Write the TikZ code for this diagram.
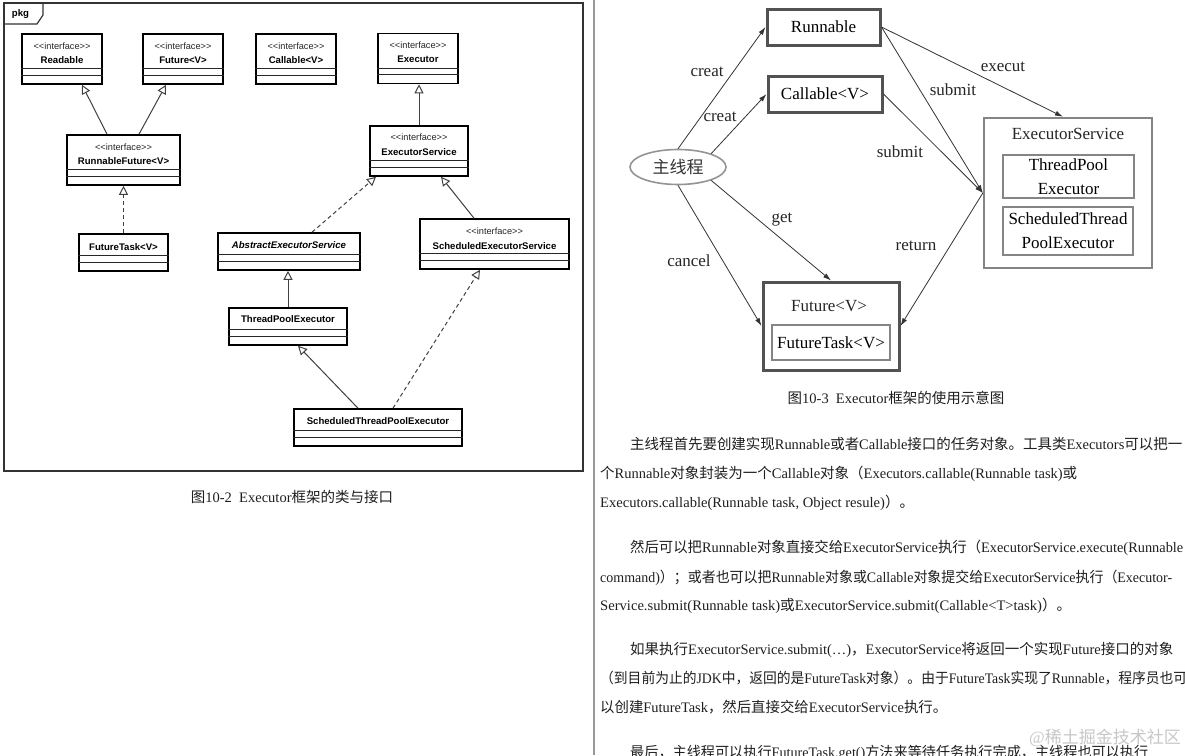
\documentclass[tikz,border=0pt]{standalone}
\usepackage{fontspec}
\setmainfont{Liberation Serif}
\setsansfont{Liberation Sans}
\newfontfamily\cjkfont{Noto Sans CJK SC}
\usepackage{graphicx}
\usetikzlibrary{arrows.meta,shapes.geometric,positioning}

% switch to the CJK font for Chinese characters
\XeTeXinterchartokenstate=1
\newXeTeXintercharclass\cjkclass
\newcount\cjkcnt
\cjkcnt="3000 \loop\XeTeXcharclass\cjkcnt=\cjkclass\advance\cjkcnt by 1 \ifnum\cjkcnt<"3040 \repeat
\cjkcnt="4E00 \loop\XeTeXcharclass\cjkcnt=\cjkclass\advance\cjkcnt by 1 \ifnum\cjkcnt<"A000 \repeat
\cjkcnt="FF00 \loop\XeTeXcharclass\cjkcnt=\cjkclass\advance\cjkcnt by 1 \ifnum\cjkcnt<"FFF0 \repeat
\XeTeXinterchartoks 0 \cjkclass = {\cjkfont}
\XeTeXinterchartoks 4095 \cjkclass = {\cjkfont}
\XeTeXinterchartoks \cjkclass 0 = {\rmfamily}
\XeTeXinterchartoks \cjkclass 4095 = {\rmfamily}

\tikzset{
  umlbox/.style={draw=black, line width=1.6pt, fill=white, inner sep=0pt},
  umlrow/.style={draw=black!85, line width=1.1pt},
  stereo/.style={inner sep=0pt, text=black!85, font=\sffamily\fontsize{9.2}{10}\selectfont},
  cname/.style={inner sep=0pt, font=\sffamily\bfseries\fontsize{9.6}{10}\selectfont},
  gen/.style={draw=black!75, line width=1pt, -{Triangle[open, length=9pt, width=9pt]}},
  realize/.style={gen, dash pattern=on 4pt off 3pt},
  tbox/.style={draw=black!68, line width=3pt, inner sep=0pt, font=\fontsize{17}{20}\selectfont},
  gbox/.style={draw=black!48, line width=2.4pt, inner sep=0pt, align=center, font=\fontsize{17}{24}\selectfont},
  flow/.style={draw=black!80, line width=0.8pt, -{Latex[length=8pt, width=5pt]}},
  lbl/.style={inner sep=0pt, text=black!85, font=\fontsize{17}{20}\selectfont},
  ptext/.style={anchor=base west, inner sep=0pt, text=black!88, font=\rmfamily\fontsize{14.5}{16}\selectfont},
}
\newcommand{\umlrows}[1]{%
  \draw[umlrow] ([yshift=16pt]#1.south west) -- ([yshift=16pt]#1.south east);
  \draw[umlrow] ([yshift=9.5pt]#1.south west) -- ([yshift=9.5pt]#1.south east);}
\newcommand{\intf}{<{}<interface>{}>}

\begin{document}
\begin{tikzpicture}[x=1pt,y=-1pt]
\useasboundingbox (0,0) rectangle (1185,755);
\fill[white] (0,0) rectangle (1185,755);

%Frame of the package
\draw[black!80, line width=1.4pt] (4,3) rectangle (583,471);
\draw[black!80, line width=1.2pt] (4,24) -- (37,24) -- (43,15) -- (43,3);
\node[cname] (pkg) at (20.5,14.5) {pkg};

%Separator
\draw[black!40, line width=1.3pt] (594,0) -- (594,755);

%Classes and interfaces
\node[umlbox, minimum width=80, minimum height=50] (readable) at (62,59) {};
\node[umlbox, minimum width=80, minimum height=50] (futurei) at (183,59) {};
\node[umlbox, minimum width=80, minimum height=50] (callablei) at (296,59) {};
\node[umlbox, minimum width=80, minimum height=50] (executor) at (418,58.5) {};
\node[umlbox, minimum width=113, minimum height=50] (rfuture) at (123.5,160) {};
\node[umlbox, minimum width=98, minimum height=50] (esi) at (419,151) {};
\node[umlbox, minimum width=89, minimum height=37] (ftask) at (123.5,252.5) {};
\node[umlbox, minimum width=142, minimum height=37] (aes) at (289,251.5) {};
\node[umlbox, minimum width=149, minimum height=50] (ses) at (494.5,244) {};
\node[umlbox, minimum width=118, minimum height=37] (tpe) at (288,326.5) {};
\node[umlbox, minimum width=168, minimum height=37] (stpe) at (378,427.5) {};
\foreach \c in {readable,futurei,callablei,executor,rfuture,esi,ftask,aes,ses,tpe,stpe}
  \umlrows{\c};

% Text Node
\node[stereo] (readables) at (62,46) {\intf};
\node[cname] (readablen) at (62,60) {Readable};
\node[stereo] (futureis) at (183,46) {\intf};
\node[cname] (futurein) at (183,60) {Future<V>};
\node[stereo] (callableis) at (296,46) {\intf};
\node[cname] (callablein) at (296,60) {Callable<V>};
\node[stereo] (executors) at (418,45) {\intf};
\node[cname] (executorn) at (418,59) {Executor};
\node[stereo] (rfutures) at (123.5,147) {\intf};
\node[cname] (rfuturen) at (123.5,161) {RunnableFuture<V>};
\node[stereo] (esis) at (419,137.5) {\intf};
\node[cname] (esin) at (419,152) {ExecutorService};
\node[stereo] (sess) at (494.5,231) {\intf};
\node[cname] (sesn) at (494.5,246) {ScheduledExecutorService};
\node[cname] (ftaskn) at (123.5,247.5) {FutureTask<V>};
\node[cname, font=\sffamily\bfseries\itshape\fontsize{9.6}{10}\selectfont] (aesn) at (289,245.5) {AbstractExecutorService};
\node[cname] (tpen) at (288,319.5) {ThreadPoolExecutor};
\node[cname] (stpen) at (378,421.5) {ScheduledThreadPoolExecutor};

%Generalisations
\draw[gen] ([xshift=-16.5pt]rfuture.north) -- ([xshift=20pt]readable.south);
\draw[gen] ([xshift=15.5pt]rfuture.north) -- ([xshift=-17pt]futurei.south);
\draw[realize] (ftask.north) -- (rfuture.south);
\draw[gen] (esi.north) -- (esi.north |- executor.south);
\draw[realize] ([xshift=23pt]aes.north) -- ([xshift=-43pt]esi.south);
\draw[gen] ([xshift=-20.5pt]ses.north) -- ([xshift=22pt]esi.south);
\draw[gen] (tpe.north) -- (tpe.north |- aes.south);
\draw[gen] ([xshift=-20pt]stpe.north) -- ([xshift=10pt]tpe.south);
\draw[realize] ([xshift=15pt]stpe.north) -- ([xshift=-14.5pt]ses.south);

% Text Node
\node[ptext, anchor=center] (cap2) at (292,497) {图10-2\hspace{0.5em}Executor框架的类与接口};

%Use of the framework
\node[tbox, minimum width=113, minimum height=36] (runnable) at (823.5,27) {Runnable};
\node[tbox, minimum width=114, minimum height=36] (callable) at (825,94) {Callable<V>};
\node[ellipse, draw=black!42, line width=1.6pt, minimum width=96, minimum height=35, inner sep=0pt, text=black!80, font=\fontsize{17}{20}\selectfont] (mainth) at (678,167) {主线程};
\node[gbox, minimum width=168, minimum height=150] (exec) at (1068,193) {};
\node[gbox, minimum width=131, minimum height=43] (tpool) at (1068.5,176.5) {ThreadPool\\Executor};
\node[gbox, minimum width=130, minimum height=48] (sched) at (1068,231) {ScheduledThread\\PoolExecutor};
\node[tbox, minimum width=136, minimum height=88] (future) at (831,326) {};
\node[gbox, minimum width=118, minimum height=35] (ftask2) at (831,342.5) {FutureTask<V>};
\node[lbl] (execn) at (1068,134) {ExecutorService};
\node[lbl] (futuren) at (829,306) {Future<V>};

%Arrows
\draw[flow] (mainth.north) -- (runnable.west);
\draw[flow] (mainth.22) -- (callable.west);
\draw[flow] (mainth.-22) -- (future.north);
\draw[flow] (mainth.south) -- (future.west);
\draw[flow] (runnable.east) -- ([xshift=-5pt]exec.north);
\draw[flow] (runnable.east) -- (exec.west);
\draw[flow] (callable.east) -- (exec.west);
\draw[flow] (exec.west) -- (future.east);

% Text Node
\node[lbl] (creat1) at (707,72) {creat};
\node[lbl] (creat2) at (720,117) {creat};
\node[lbl] (execut) at (1003,67) {execut};
\node[lbl] (submit1) at (953,90) {submit};
\node[lbl] (submit2) at (900,152) {submit};
\node[lbl] (getl) at (782,220) {get};
\node[lbl] (returnl) at (916,246) {return};
\node[lbl] (cancell) at (689,261) {cancel};
\node[ptext, anchor=center] (cap3) at (896,398) {图10-3\hspace{0.5em}Executor框架的使用示意图};

%Paragraphs
\node[ptext] (p1a) at (630,449) {\resizebox{552pt}{\height}{主线程首先要创建实现Runnable或者Callable接口的任务对象。工具类Executors可以把一}};
\node[ptext] (p1b) at (600,478) {\resizebox{477pt}{\height}{个Runnable对象封装为一个Callable对象（Executors.callable(Runnable task)或}};
\node[ptext] (p1c) at (600,507) {\resizebox{314pt}{\height}{Executors.callable(Runnable task, Object resule)）。}};
\node[ptext] (p2a) at (630,552) {\resizebox{553pt}{\height}{然后可以把Runnable对象直接交给ExecutorService执行（ExecutorService.execute(Runnable}};
\node[ptext] (p2b) at (600,582) {\resizebox{572pt}{\height}{command)）；或者也可以把Runnable对象或Callable对象提交给ExecutorService执行（Executor-}};
\node[ptext] (p2c) at (600,610) {\resizebox{471pt}{\height}{Service.submit(Runnable task)或ExecutorService.submit(Callable<T>task)）。}};
\node[ptext] (p3a) at (630,654) {\resizebox{543pt}{\height}{如果执行ExecutorService.submit(…)，ExecutorService将返回一个实现Future接口的对象}};
\node[ptext] (p3b) at (600,683) {\resizebox{587pt}{\height}{（到目前为止的JDK中，返回的是FutureTask对象）。由于FutureTask实现了Runnable，程序员也可}};
\node[ptext] (p3c) at (600,712) {\resizebox{347pt}{\height}{以创建FutureTask，然后直接交给ExecutorService执行。}};
\node[ptext] (p4a) at (630,757) {\resizebox{518pt}{\height}{最后，主线程可以执行FutureTask.get()方法来等待任务执行完成，主线程也可以执行}};
\node[ptext, anchor=center, text=black!22, font=\rmfamily\fontsize{17}{20}\selectfont] (mark) at (1105,738) {@稀土掘金技术社区};
\end{tikzpicture}
\end{document}
